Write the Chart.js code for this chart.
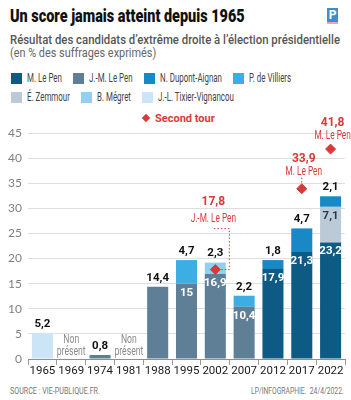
<!DOCTYPE html>
<html lang="fr">
<head>
<meta charset="UTF-8">
<title>Un score jamais atteint depuis 1965</title>
<script src="https://cdn.jsdelivr.net/npm/chart.js"></script>
<style>
  html, body { margin: 0; padding: 0; background: #fff; }
  body { width: 351px; height: 400px; position: relative; overflow: hidden; font-family: Roboto, sans-serif; }
  .serre { position: absolute; white-space: nowrap; transform-origin: 0 50%; }
  #titre { left: 10px; top: 5px; font-size: 18px; line-height: 22px; font-weight: 900; color: #111; }
  #logo { position: absolute; left: 327px; top: 8px; width: 11px; height: 14px; background: #3d8dd2;
          border-bottom: 2px solid #f2a3b3; color: #fff; font: bold 12px Roboto, sans-serif;
          text-align: center; line-height: 15px; }
  #sous-titre { left: 10px; top: 33px; font-size: 12px; line-height: 14px; font-weight: 500; color: #555; }
  #unite { left: 10px; top: 46px; font-size: 12px; line-height: 14px; color: #666; }
  .carre { position: absolute; width: 11px; height: 11px; }
  .nom { font-size: 12px; line-height: 14px; color: #444; }
  #second { position: absolute; left: 143px; top: 112px; font: bold 11px Roboto, sans-serif; color: #d63a3a; }
  #second i { display: inline-block; width: 6px; height: 6px; background: #d63a3a; transform: rotate(45deg);
              margin-right: 6px; position: relative; top: -1px; }
  #graph { position: absolute; left: 0; top: 100px; }
  .pied { top: 386px; font-size: 8.5px; line-height: 11px; color: #777; }
  #source { left: 10px; }
</style>
</head>
<body>
  <div id="titre" class="serre">Un score jamais atteint depuis 1965</div>
  <div id="logo">P</div>
  <div id="sous-titre" class="serre">Résultat des candidats d’extrême droite à l’élection présidentielle</div>
  <div id="unite" class="serre">(en % des suffrages exprimés)</div>
  <div id="legende"></div>
  <div id="second"><i></i>Second tour</div>
  <canvas id="graph" width="351" height="282"></canvas>
  <div id="source" class="pied serre">SOURCE : VIE-PUBLIQUE.FR.</div>
  <div id="credit" class="pied serre">LP/INFOGRAPHIE.&nbsp;&nbsp;24/4/2022.</div>

<script>
const annees = ['1965', '1969', '1974', '1981', '1988', '1995', '2002', '2007', '2012', '2017', '2022'];

const candidats = ['M. Le Pen', 'J.-M. Le Pen', 'N. Dupont-Aignan', 'P. de Villiers',
                   'É. Zemmour', 'B. Mégret', 'J.-L. Tixier-Vignancou'];
const couleurs = ['#0d5b84', '#5f7f97', '#1989c5', '#3caee4', '#bccad7', '#93cff0', '#cbe5f6'];

// premier tour, en %
const mLePen       = [null, null, null, null, null, null, null, null, 17.9, 21.3, 23.2];
const jmLePen      = [null, null, 0.8, null, 14.4, 15, 16.9, 10.4, null, null, null];
const dupontAignan = [null, null, null, null, null, null, null, null, 1.8, 4.7, 2.1];
const deVilliers   = [null, null, null, null, null, 4.7, null, 2.2, null, null, null];
const zemmour      = [null, null, null, null, null, null, null, null, null, null, 7.1];
const megret       = [null, null, null, null, null, null, 2.3, null, null, null, null];
const tixier       = [5.2, null, null, null, null, null, null, null, null, null, null];

// second tour
const secondTour    = [null, null, null, null, null, null, 17.8, null, null, 33.9, 41.8];
const secondTourNom = [null, null, null, null, null, null, 'J.-M. Le Pen', null, null, 'M. Le Pen', 'M. Le Pen'];

const absent = 'Non présent';

// ordre d'empilement (du bas vers le haut)
const series = {
  'M. Le Pen': mLePen, 'J.-M. Le Pen': jmLePen, 'É. Zemmour': zemmour, 'B. Mégret': megret,
  'P. de Villiers': deVilliers, 'N. Dupont-Aignan': dupontAignan, 'J.-L. Tixier-Vignancou': tixier
};

const ROUGE = '#d63a3a';
const SERRE = 0.66; // pas de police étroite installée : on comprime

// textes resserrés à une largeur donnée
function ajuste(id, largeur) {
  const el = document.getElementById(id);
  el.style.transform = 'scaleX(' + (largeur / el.offsetWidth) + ')';
}
ajuste('titre', 235);
ajuste('sous-titre', 330);
ajuste('unite', 146);
ajuste('source', 90);
const credit = document.getElementById('credit');
credit.style.left = (344 - 93) + 'px';
ajuste('credit', 93);

// légende
const leg = document.getElementById('legende');
[[candidats.slice(0, 4), 78], [candidats.slice(4), 97]].forEach(([rang, cy]) => {
  let x = 11;
  rang.forEach(nom => {
    const c = document.createElement('div');
    c.className = 'carre';
    c.style.cssText = 'left:' + x + 'px;top:' + (cy - 5.5) + 'px;background:' + couleurs[candidats.indexOf(nom)];
    leg.appendChild(c);
    const t = document.createElement('div');
    t.className = 'nom serre';
    t.textContent = nom;
    t.style.left = (x + 16) + 'px';
    t.style.top = (cy - 7) + 'px';
    leg.appendChild(t);
    t.style.transform = 'scaleX(' + SERRE + ')';
    x += 16 + t.offsetWidth * SERRE + 11;
  });
});

const virgule = v => String(v).replace('.', ',');

function texteSerre(ctx, txt, x, y, f) {
  ctx.fillText(txt, x, y, ctx.measureText(txt).width * f);
}

const etiquettes = {
  id: 'etiquettes',
  afterDatasetsDraw(chart) {
    const ctx = chart.ctx;
    const sx = chart.scales.x, sy = chart.scales.y;
    ctx.save();
    ctx.textAlign = 'center';
    ctx.textBaseline = 'middle';
    annees.forEach((an, i) => {
      const segs = [];
      chart.data.datasets.forEach((ds, d) => {
        if (ds.type === 'line' || ds.data[i] == null) return;
        segs.push({ v: ds.data[i], el: chart.getDatasetMeta(d).data[i], ds });
      });
      const cx = sx.getPixelForValue(i);
      if (!segs.length) {
        const base = sy.getPixelForValue(0);
        const [a, b] = absent.split(' ');
        ctx.fillStyle = '#8a8a8a';
        ctx.font = '12px Roboto, sans-serif';
        texteSerre(ctx, a, cx, base - 19, 0.72);
        texteSerre(ctx, b, cx, base - 7, 0.72);
        return;
      }
      segs.forEach((s, k) => {
        ctx.font = 'bold 11.5px Roboto, sans-serif';
        if (k === segs.length - 1) {
          ctx.fillStyle = '#111';
          ctx.fillText(virgule(s.v), s.el.x, s.el.y - 9);
        } else {
          ctx.fillStyle = s.ds.label === 'É. Zemmour' ? '#1d3b55' : '#fff';
          ctx.fillText(virgule(s.v), s.el.x, s.el.y + 9);
        }
      });
    });

    // second tour
    const meta = chart.getDatasetMeta(0);
    ctx.strokeStyle = ROUGE;
    ctx.lineWidth = 1;
    ctx.setLineDash([1.5, 2]);
    meta.data.forEach((pt, i) => {
      if (secondTour[i] == null) return;
      let nomY, valY, dx = 2;
      if (annees[i] === '2002') {
        nomY = pt.y - 51; valY = pt.y - 68; dx = -2;
        ctx.beginPath();
        ctx.moveTo(pt.x + 6, pt.y);
        ctx.lineTo(pt.x + 14, pt.y);
        ctx.lineTo(pt.x + 14, pt.y - 41);
        ctx.lineTo(pt.x - 2, pt.y - 41);
        ctx.stroke();
      } else if (annees[i] === '2017') {
        nomY = pt.y - 17; valY = pt.y - 30;
        ctx.beginPath();
        ctx.moveTo(pt.x, pt.y - 11);
        ctx.lineTo(pt.x, pt.y - 6);
        ctx.stroke();
      } else {
        nomY = pt.y - 13; valY = pt.y - 26;
      }
      ctx.fillStyle = ROUGE;
      ctx.font = 'bold 12px Roboto, sans-serif';
      ctx.fillText(virgule(secondTour[i]), pt.x + dx, valY);
      ctx.font = '12.5px Roboto, sans-serif';
      texteSerre(ctx, secondTourNom[i], pt.x + dx, nomY, SERRE);
    });
    ctx.restore();
  }
};

const datasets = [{
  type: 'line',
  label: 'Second tour',
  data: secondTour,
  stack: 'tour2',
  showLine: false,
  pointStyle: 'rectRot',
  pointRadius: 5,
  backgroundColor: ROUGE,
  borderColor: ROUGE,
  order: -1
}];
Object.keys(series).forEach(nom => {
  datasets.push({
    type: 'bar',
    label: nom,
    data: series[nom],
    backgroundColor: couleurs[candidats.indexOf(nom)],
    barPercentage: 0.73,
    categoryPercentage: 1
  });
});

new Chart(document.getElementById('graph'), {
  data: { labels: annees, datasets },
  options: {
    responsive: false,
    animation: false,
    layout: { padding: { top: 33, right: 6, left: 0, bottom: 0 } },
    plugins: { legend: { display: false }, tooltip: { enabled: false } },
    scales: {
      x: {
        stacked: true,
        grid: { offset: true, drawOnChartArea: false, tickLength: 6, color: '#9a9a9a' },
        border: { color: '#8f8f8f' },
        ticks: { color: '#1a1a1a', padding: -1, maxRotation: 0, autoSkip: false,
                 font: { family: 'Roboto', size: 11.5 } },
        afterFit(s) { s.height = 23; }
      },
      y: {
        stacked: true,
        min: 0, max: 45,
        ticks: { stepSize: 5, padding: 6, color: '#808080', font: { family: 'Lato', size: 12 } },
        grid: { drawTicks: false, color: c => c.tick.value === 0 ? '#8f8f8f' : '#dedede' },
        border: { display: false },
        afterFit(s) { s.width = 28; }
      }
    }
  },
  plugins: [etiquettes]
});
</script>
</body>
</html>
